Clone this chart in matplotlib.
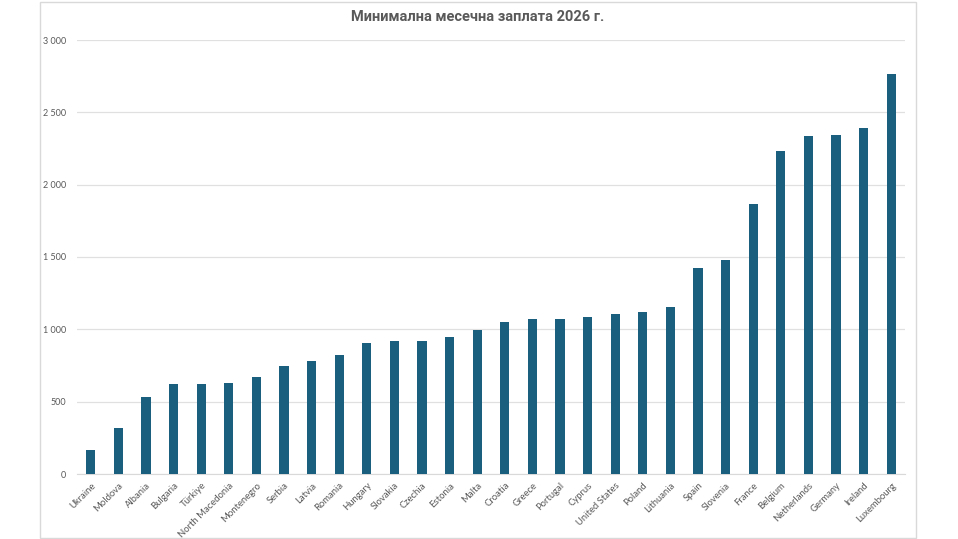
import matplotlib
matplotlib.use("Agg")
import matplotlib.pyplot as plt
from matplotlib.patches import Rectangle
from matplotlib.ticker import FuncFormatter

# minimum monthly wage 2026
countries = ["Ukraine", "Moldova", "Albania", "Bulgaria", "Türkiye", "North Macedonia",
             "Montenegro", "Serbia", "Latvia", "Romania", "Hungary", "Slovakia", "Czechia",
             "Estonia", "Malta", "Croatia", "Greece", "Portugal", "Cyprus", "United States",
             "Poland", "Lithuania", "Spain", "Slovenia", "France", "Belgium", "Netherlands",
             "Germany", "Ireland", "Luxembourg"]
wages = [165, 315, 532, 620, 623, 627, 670, 744, 780, 825, 905, 917, 922, 945, 995,
         1051, 1074, 1074, 1088, 1105, 1120, 1155, 1427, 1482, 1867, 2233, 2337, 2342,
         2390, 2768]
yticks = [0, 500, 1000, 1500, 2000, 2500, 3000]
title = "Минимална месечна заплата 2026 г."

fig = plt.figure(figsize=(9.58, 5.39), dpi=100)
ax = fig.add_axes([77 / 958, 1 - 474 / 539, 828 / 958, 434 / 539])

ax.bar(range(len(countries)), wages, width=0.34, color="#1b5f7e", zorder=3)

ax.set_xlim(-0.5, len(countries) - 0.5)
ax.set_ylim(0, 3000)
ax.set_yticks(yticks)
ax.yaxis.set_major_formatter(FuncFormatter(lambda v, p: f"{int(v):,}".replace(",", " ")))
ax.grid(axis="y", color="#e0e0e0", linewidth=0.9, zorder=0)
for s in ["top", "right", "left"]:
    ax.spines[s].set_visible(False)
ax.spines["bottom"].set_color("#d9d9d9")
ax.tick_params(axis="y", length=0, labelsize=6.5, labelcolor="#595959", pad=8)
ax.tick_params(axis="x", length=0, labelsize=6.8, labelcolor="#595959", pad=5)
ax.set_xticks(range(len(countries)))
ax.set_xticklabels(countries, rotation=45, ha="right", rotation_mode="anchor",
                   family="Lato")
for lab in ax.get_yticklabels():
    lab.set_family("Lato")

fig.text(478 / 958, 1 - 17 / 539, title, ha="center", va="center", fontsize=10.5,
         fontweight="bold", color="#595959", family="Roboto")

# chart frame
fig.patches.append(Rectangle((40 / 958, 1 / 539), 876 / 958, 536 / 539,
                             transform=fig.transFigure, fill=False,
                             edgecolor="#d9d9d9", linewidth=1))

fig.savefig("out.png", dpi=100)
